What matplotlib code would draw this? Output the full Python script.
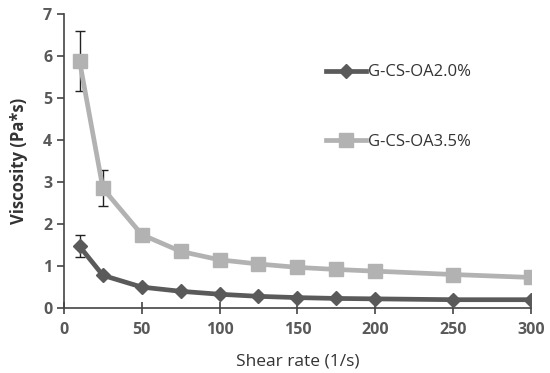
import numpy as np
import matplotlib.pyplot as plt

plt.rcParams['font.family'] = ['Open Sans', 'DejaVu Sans']

shear = [10, 25, 50, 75, 100, 125, 150, 175, 200, 250, 300]
visc_20 = [1.47, 0.78, 0.50, 0.40, 0.33, 0.28, 0.25, 0.23, 0.22, 0.20, 0.20]
err_20 = [0.26, 0.0, 0.0, 0.0, 0.0, 0.0, 0.0, 0.0, 0.0, 0.0, 0.0]
visc_35 = [5.88, 2.85, 1.75, 1.35, 1.15, 1.05, 0.97, 0.92, 0.88, 0.80, 0.73]
err_35 = [0.72, 0.43, 0.0, 0.0, 0.0, 0.0, 0.0, 0.0, 0.0, 0.0, 0.0]

dark = '#5a5a5a'
light = '#b2b2b2'
txt = '#595959'

fig = plt.figure(figsize=(5.5, 3.73), dpi=100)
ax = fig.add_axes([0.1164, 0.174, 0.8486, 0.788])

# error bars only where they were drawn
e20 = np.array(err_20)
e35 = np.array(err_35)
m20 = e20 > 0
m35 = e35 > 0
ax.errorbar(np.array(shear)[m20], np.array(visc_20)[m20], yerr=e20[m20],
            fmt='none', ecolor='#222222', elinewidth=1, capsize=3.5, zorder=1)
ax.errorbar(np.array(shear)[m35], np.array(visc_35)[m35], yerr=e35[m35],
            fmt='none', ecolor='#222222', elinewidth=1, capsize=3.5, zorder=1)

ax.plot(shear, visc_20, color=dark, linewidth=3.4, marker='D', markersize=7.5,
        label='G-CS-OA2.0%', zorder=3)
ax.plot(shear, visc_35, color=light, linewidth=3.4, marker='s', markersize=10,
        label='G-CS-OA3.5%', zorder=2)

ax.set_xlim(0, 300)
ax.set_ylim(0, 7)
ax.set_xticks([0, 50, 100, 150, 200, 250, 300])
ax.set_yticks(range(8))

for s in ['top', 'right']:
    ax.spines[s].set_visible(False)
for s in ['left', 'bottom']:
    ax.spines[s].set_color('#444444')
    ax.spines[s].set_linewidth(1.2)
ax.tick_params(axis='both', colors='#444444', labelcolor=txt, labelsize=11.5,
               width=1.2, length=5)
ax.tick_params(axis='x', direction='inout', length=8, pad=6)
for lab in ax.get_xticklabels() + ax.get_yticklabels():
    lab.set_fontweight('bold')

ax.set_xlabel('Shear rate (1/s)', fontsize=12.5, color='#333333', labelpad=11)
ax.set_ylabel('Viscosity (Pa*s)', fontsize=12, color='#333333',
              fontweight='bold', labelpad=11)

leg = ax.legend(loc='upper left', bbox_to_anchor=(0.53, 0.88), frameon=False,
                labelspacing=3.2, handlelength=2.4, handletextpad=0.1,
                fontsize=12)
for t in leg.get_texts():
    t.set_color('#333333')

fig.savefig('out.png', dpi=100)
